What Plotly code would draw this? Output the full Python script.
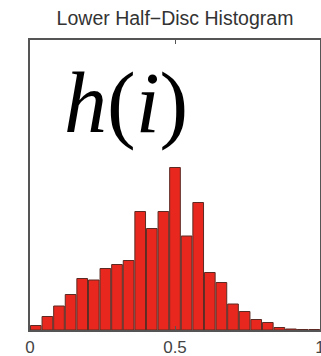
import numpy as np
import plotly.graph_objects as go

# Histogram data (25 bins over [0, 1])
bin_width = 0.04
bin_centers = [round(0.02 + 0.04 * k, 2) for k in range(25)]
counts = [9, 27, 48, 71, 103, 100, 123, 131, 139, 237, 203, 237, 325,
          188, 255, 115, 95, 52, 37, 21, 15, 5, 2, 1, 1]
x_tick_vals = [0, 0.5, 1]
x_tick_text = ["0", "0.5", "1"]
title_text = "Lower Half\u2212Disc Histogram"

fig = go.Figure()
fig.add_trace(go.Bar(
    x=bin_centers,
    y=counts,
    width=[bin_width * 0.92] * len(counts),
    marker=dict(color="#E8281E", line=dict(color="#5C2A22", width=1)),
    hoverinfo="skip",
))

fig.update_layout(
    width=321, height=356,
    margin=dict(l=30, r=1, t=40, b=26, autoexpand=False),
    paper_bgcolor="white",
    plot_bgcolor="white",
    showlegend=False,
    title=dict(
        text=title_text,
        x=0.5, xanchor="center", xref="paper",
        y=1 - 18 / 356, yanchor="middle", yref="container",
        font=dict(family="Liberation Sans, Arial, sans-serif", size=19.5, color="#333333"),
    ),
    annotations=[dict(
        text="<i>h</i>(<i>i</i>)",
        x=0.331, y=0.782, xref="paper", yref="paper",
        xanchor="center", yanchor="middle",
        showarrow=False,
        font=dict(family="Liberation Serif, Times New Roman, serif", size=86, color="black"),
    )],
)

fig.update_xaxes(
    range=[0, 1],
    tickvals=x_tick_vals, ticktext=x_tick_text,
    ticks="inside", ticklen=4, tickcolor="#555555",
    ticklabeloverflow="allow",
    ticklabelstandoff=1,
    automargin=False,
    showline=True, linecolor="#555555", linewidth=1.5, mirror="ticks",
    showgrid=False, zeroline=False,
    tickfont=dict(family="Liberation Sans, Arial, sans-serif", size=17, color="#444444"),
)
fig.update_yaxes(
    range=[0, 580],
    showticklabels=False, ticks="",
    automargin=False,
    showline=True, linecolor="#555555", linewidth=1.5, mirror=True,
    showgrid=False, zeroline=False,
)

fig.write_html("out.html")
